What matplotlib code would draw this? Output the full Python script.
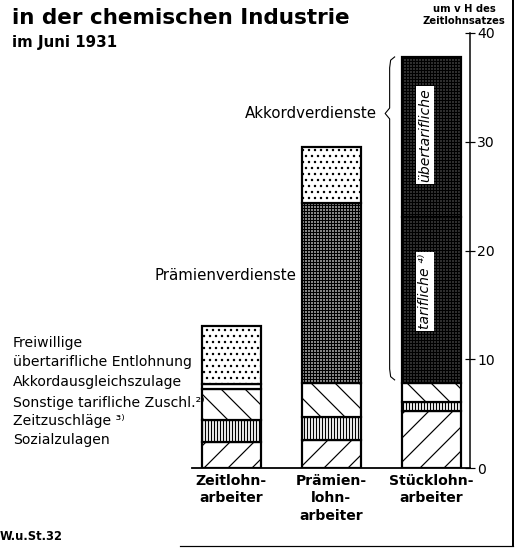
import matplotlib
matplotlib.use('Agg')
import matplotlib.pyplot as plt
from matplotlib.lines import Line2D
import numpy as np

# ---------------- data ----------------
categories = ['Zeitlohn-\narbeiter', 'Prämien-\nlohn-\narbeiter', 'Stücklohn-\narbeiter']
sozialzulagen = [2.4, 2.6, 5.2]
zeitzuschlaege = [2.0, 2.1, 0.9]
sonstige_zuschl = [2.9, 3.1, 1.7]
akkordausgleich = [0.4, 0.0, 0.0]
praemienverdienste = [0.0, 16.6, 0.0]
akkord_tariflich = [0.0, 0.0, 15.3]
akkord_uebertariflich = [0.0, 0.0, 14.7]
freiwillige = [5.4, 5.1, 0.0]

legend_labels = ['Freiwillige\nübertarifliche Entlohnung', 'Akkordausgleichszulage',
                 'Sonstige tarifliche Zuschl.²⁾', 'Zeitzuschläge ³⁾', 'Sozialzulagen']
yticks = [0, 10, 20, 30, 40]

FONT = ['Liberation Sans Narrow', 'DejaVu Sans']
plt.rcParams['font.family'] = FONT
plt.rcParams['hatch.linewidth'] = 1.2

W, H = 518, 550
fig = plt.figure(figsize=(W / 72, H / 72), dpi=72)
fig.patch.set_facecolor('white')

def fx(px):
    return px / W

def fy(py):
    return 1 - py / H

ax = fig.add_axes([fx(192), fy(468), (470 - 192) / W, (468 - 33) / H])
ax.set_xlim(-0.395, 2.39)
ax.set_ylim(0, 40)

x = np.arange(len(categories))
bw = 0.59

segments = [
    (sozialzulagen, '/', 'white'),
    (zeitzuschlaege, '||||', 'white'),
    (sonstige_zuschl, '\\', 'white'),
    (akkordausgleich, None, 'white'),
    (praemienverdienste, '++++', '#a8a8a8'),
    (akkord_tariflich, '++++', '#3a3a3a'),
    (akkord_uebertariflich, '++++', '#3a3a3a'),
    (freiwillige, '..', 'white'),
]

bottom = np.zeros(len(categories))
for vals, hatch, fc in segments:
    vals = np.array(vals, dtype=float)
    for i in range(len(categories)):
        if vals[i] > 0:
            ax.bar(x[i], vals[i], bottom=bottom[i], width=bw, facecolor=fc,
                   edgecolor='black', hatch=hatch, linewidth=2.2, zorder=2)
    bottom = bottom + vals

# spines / axis
for s in ['left', 'top']:
    ax.spines[s].set_visible(False)
ax.spines['right'].set_linewidth(1.5)
ax.spines['bottom'].set_linewidth(1.8)
ax.yaxis.tick_right()
ax.set_yticks(yticks)
ax.set_yticklabels([str(t) for t in yticks], fontsize=14)
ax.tick_params(axis='y', direction='inout', length=10, width=1.2, pad=2)
ax.set_xticks(x)
ax.set_xticklabels(categories, fontsize=14, fontweight='bold', linespacing=1.3)
ax.tick_params(axis='x', length=0, pad=6)

# labels inside Stücklohn bar
base3 = sozialzulagen[2] + zeitzuschlaege[2] + sonstige_zuschl[2]
ax.text(x[2] - 0.06, base3 + akkord_tariflich[2] + akkord_uebertariflich[2] / 2 + 0.2,
        'übertarifliche', rotation=90, ha='center', va='center', fontsize=14, style='italic',
        bbox=dict(boxstyle='square,pad=0.15', fc='white', ec='none'), zorder=5)
ax.text(x[2] - 0.06, base3 + akkord_tariflich[2] / 2 + 0.8,
        'tarifliche ⁴⁾', rotation=90, ha='center', va='center', fontsize=14, style='italic',
        bbox=dict(boxstyle='square,pad=0.15', fc='white', ec='none'), zorder=5)

# Prämienverdienste label
ax.text(0.655, 17.7, 'Prämienverdienste', ha='right', va='center', fontsize=15)

# Akkordverdienste label + brace
top3 = sum(v[2] for v, _, _ in segments)
bot3 = base3 + 0.3
tip_y = 32.6
ax.text(1.46, tip_y, 'Akkordverdienste', ha='right', va='center', fontsize=15)
bx = 1.585
brace_x = [bx + 0.05, bx + 0.01, bx, bx, bx - 0.045, bx, bx, bx + 0.01, bx + 0.05]
brace_y = [top3, top3 - 0.3, top3 - 1.0, tip_y + 0.5, tip_y, tip_y - 0.5, bot3 + 1.0, bot3 + 0.3, bot3]
ax.add_line(Line2D(brace_x, brace_y, color='black', lw=1.1, clip_on=False))

# left legend labels
legend_y = [343, 382, 403, 421, 440]
for lab, py in zip(legend_labels, legend_y):
    if '\n' in lab:
        l1, l2 = lab.split('\n')
        fig.text(fx(13), fy(py), l1, fontsize=14, va='center', ha='left')
        fig.text(fx(13), fy(py + 19), l2, fontsize=14, va='center', ha='left')
    else:
        fig.text(fx(13), fy(py), lab, fontsize=14, va='center', ha='left')

# titles
fig.text(fx(12), fy(18), 'in der chemischen Industrie', fontsize=21.5, fontweight='bold', va='center', ha='left')
fig.text(fx(12), fy(43), 'im Juni 1931', fontsize=15, fontweight='bold', va='center', ha='left')
fig.text(fx(464), fy(9), 'um v H des', fontsize=10, fontweight='bold', va='center', ha='center')
fig.text(fx(464), fy(21), 'Zeitlohnsatzes', fontsize=10, fontweight='bold', va='center', ha='center')
fig.text(fx(0), fy(537), 'W.u.St.32', fontsize=11.5, fontweight='bold', va='center', ha='left')

# frame lines
fig.add_artist(Line2D([fx(513), fx(513)], [fy(0), fy(546)], color='black', lw=2))
fig.add_artist(Line2D([fx(180), fx(513)], [fy(546), fy(546)], color='black', lw=1.2))

fig.savefig('out.png', dpi=72, facecolor='white')
